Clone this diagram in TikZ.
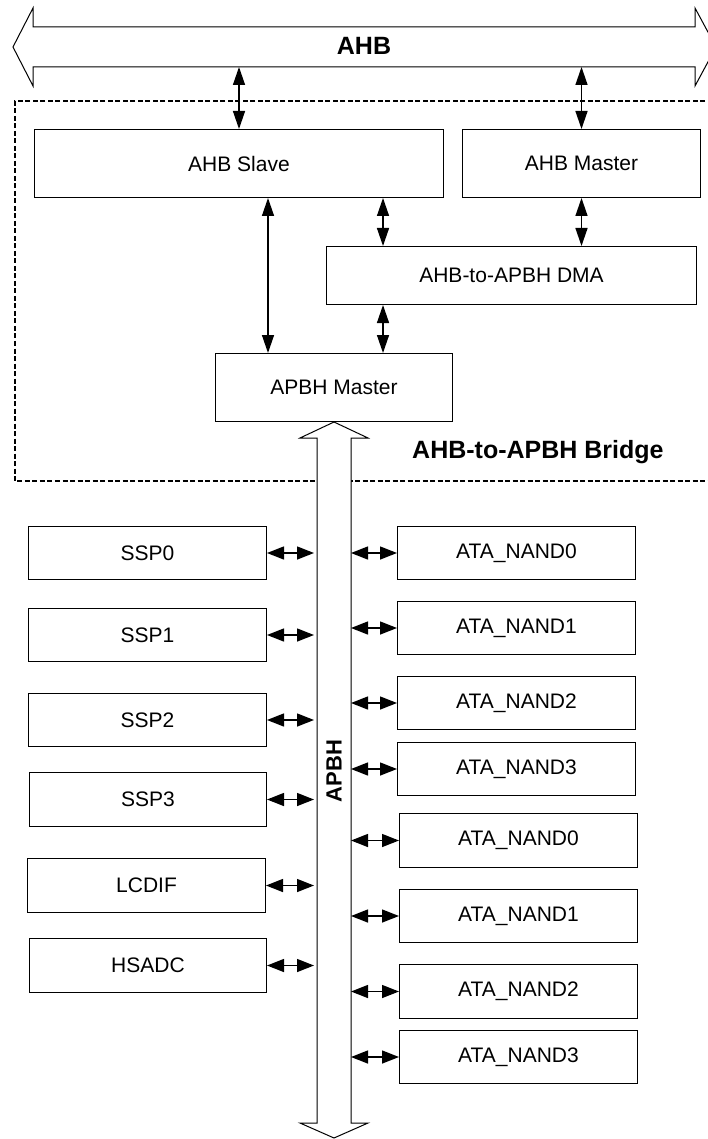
\documentclass[tikz,border=0pt]{standalone}
\usepackage{fontspec}
\setmainfont{Liberation Sans}
\usetikzlibrary{arrows.meta}
\begin{document}
\begin{tikzpicture}[x=1pt,y=-1pt,
  box/.style={draw, line width=1pt, inner sep=0pt, anchor=north west, font=\fontsize{21}{24}\selectfont},
  arr/.style={line width=1.4pt, {Triangle[length=18pt,width=12pt]}-{Triangle[length=18pt,width=12pt]}},
  harr/.style={line width=1.4pt, {Triangle[length=17pt,width=13pt]}-{Triangle[length=17pt,width=13pt]}},
  bus/.style={draw, line width=1pt, fill=white, line join=miter},
  lbl/.style={font=\bfseries\fontsize{25}{30}\selectfont, inner sep=0pt},
  bridge/.style={line width=2.2pt, dash pattern=on 5pt off 2.5pt}]
\useasboundingbox (0,0) rectangle (708,1139);
\clip (0,0) rectangle (708,1139);
% AHB bus
\draw[bus] (13,47) -- (33,8) -- (33,27) -- (695,27) -- (695,8) -- (716,47) -- (695,86) -- (695,67) -- (33,67) -- (33,86) -- cycle;
\node[lbl] (ahb) at (364,46) {AHB};
\coordinate (ahbB) at (0,67);
% bridge region
\draw[bridge] (720,101) -- (15,101) -- (15,481) -- (720,481);
\node[lbl, anchor=west] (bridgelbl) at (412,452) {AHB-to-APBH Bridge};
% APBH bus
\draw[bus] (334,422) -- (368,438) -- (351,438) -- (351,1123) -- (368,1123) -- (334,1138) -- (300,1123) -- (317,1123) -- (317,438) -- (300,438) -- cycle;
\node[lbl, rotate=90, font=\bfseries\fontsize{22}{26}\selectfont] (apbh) at (334,771) {APBH};
\coordinate (busL) at (317,0);
\coordinate (busR) at (351,0);
% boxes
\node[box, minimum width=409pt, minimum height=68pt] (slave) at (34,129) {AHB Slave};
\node[box, minimum width=238pt, minimum height=68pt] (master) at (462,129) {AHB Master};
\node[box, minimum width=370pt, minimum height=58pt] (dma) at (326,246) {AHB-to-APBH DMA};
\node[box, minimum width=237pt, minimum height=68pt] (apbhm) at (215,353) {APBH Master};
\node[box, minimum width=238pt, minimum height=53pt] (ssp0) at (28,526) {SSP0};
\node[box, minimum width=238pt, minimum height=53pt] (ssp1) at (28,608) {SSP1};
\node[box, minimum width=238pt, minimum height=53pt] (ssp2) at (28,693) {SSP2};
\node[box, minimum width=237pt, minimum height=54pt] (ssp3) at (29,772) {SSP3};
\node[box, minimum width=238pt, minimum height=54pt] (lcdif) at (27,858) {LCDIF};
\node[box, minimum width=237pt, minimum height=54pt] (hsadc) at (29,938) {HSADC};
\node[box, minimum width=238pt, minimum height=53pt] (n0a) at (397,526) {ATA\_NAND0};
\node[box, minimum width=238pt, minimum height=53pt] (n1a) at (397,601) {ATA\_NAND1};
\node[box, minimum width=238pt, minimum height=53pt] (n2a) at (397,676) {ATA\_NAND2};
\node[box, minimum width=238pt, minimum height=53pt] (n3a) at (397,742) {ATA\_NAND3};
\node[box, minimum width=238pt, minimum height=54pt] (n0b) at (399,813) {ATA\_NAND0};
\node[box, minimum width=238pt, minimum height=53pt] (n1b) at (399,889) {ATA\_NAND1};
\node[box, minimum width=238pt, minimum height=54pt] (n2b) at (399,964) {ATA\_NAND2};
\node[box, minimum width=238pt, minimum height=53pt] (n3b) at (399,1030) {ATA\_NAND3};
% vertical connectors
\coordinate (c268) at (268,0);
\coordinate (c383) at (383,0);
\draw[arr] (slave.north) -- (slave.north |- ahbB);
\draw[arr] (master.north) -- (master.north |- ahbB);
\draw[arr] (slave.south -| c268) -- (apbhm.north -| c268);
\draw[arr] (slave.south -| c383) -- (dma.north -| c383);
\draw[arr] (dma.south -| c383) -- (apbhm.north -| c383);
\draw[arr] (master.south) -- (dma.north -| master.south);
% horizontal connectors
\foreach \n in {ssp0,ssp1,ssp2,ssp3,lcdif,hsadc}
  \draw[harr] (\n.east) -- ([xshift=-3pt]\n.east -| busL);
\foreach \n in {n0a,n1a,n2a,n3a,n0b,n1b,n2b,n3b}
  \draw[harr] (busR |- \n.west) -- (\n.west);
\end{tikzpicture}
\end{document}
